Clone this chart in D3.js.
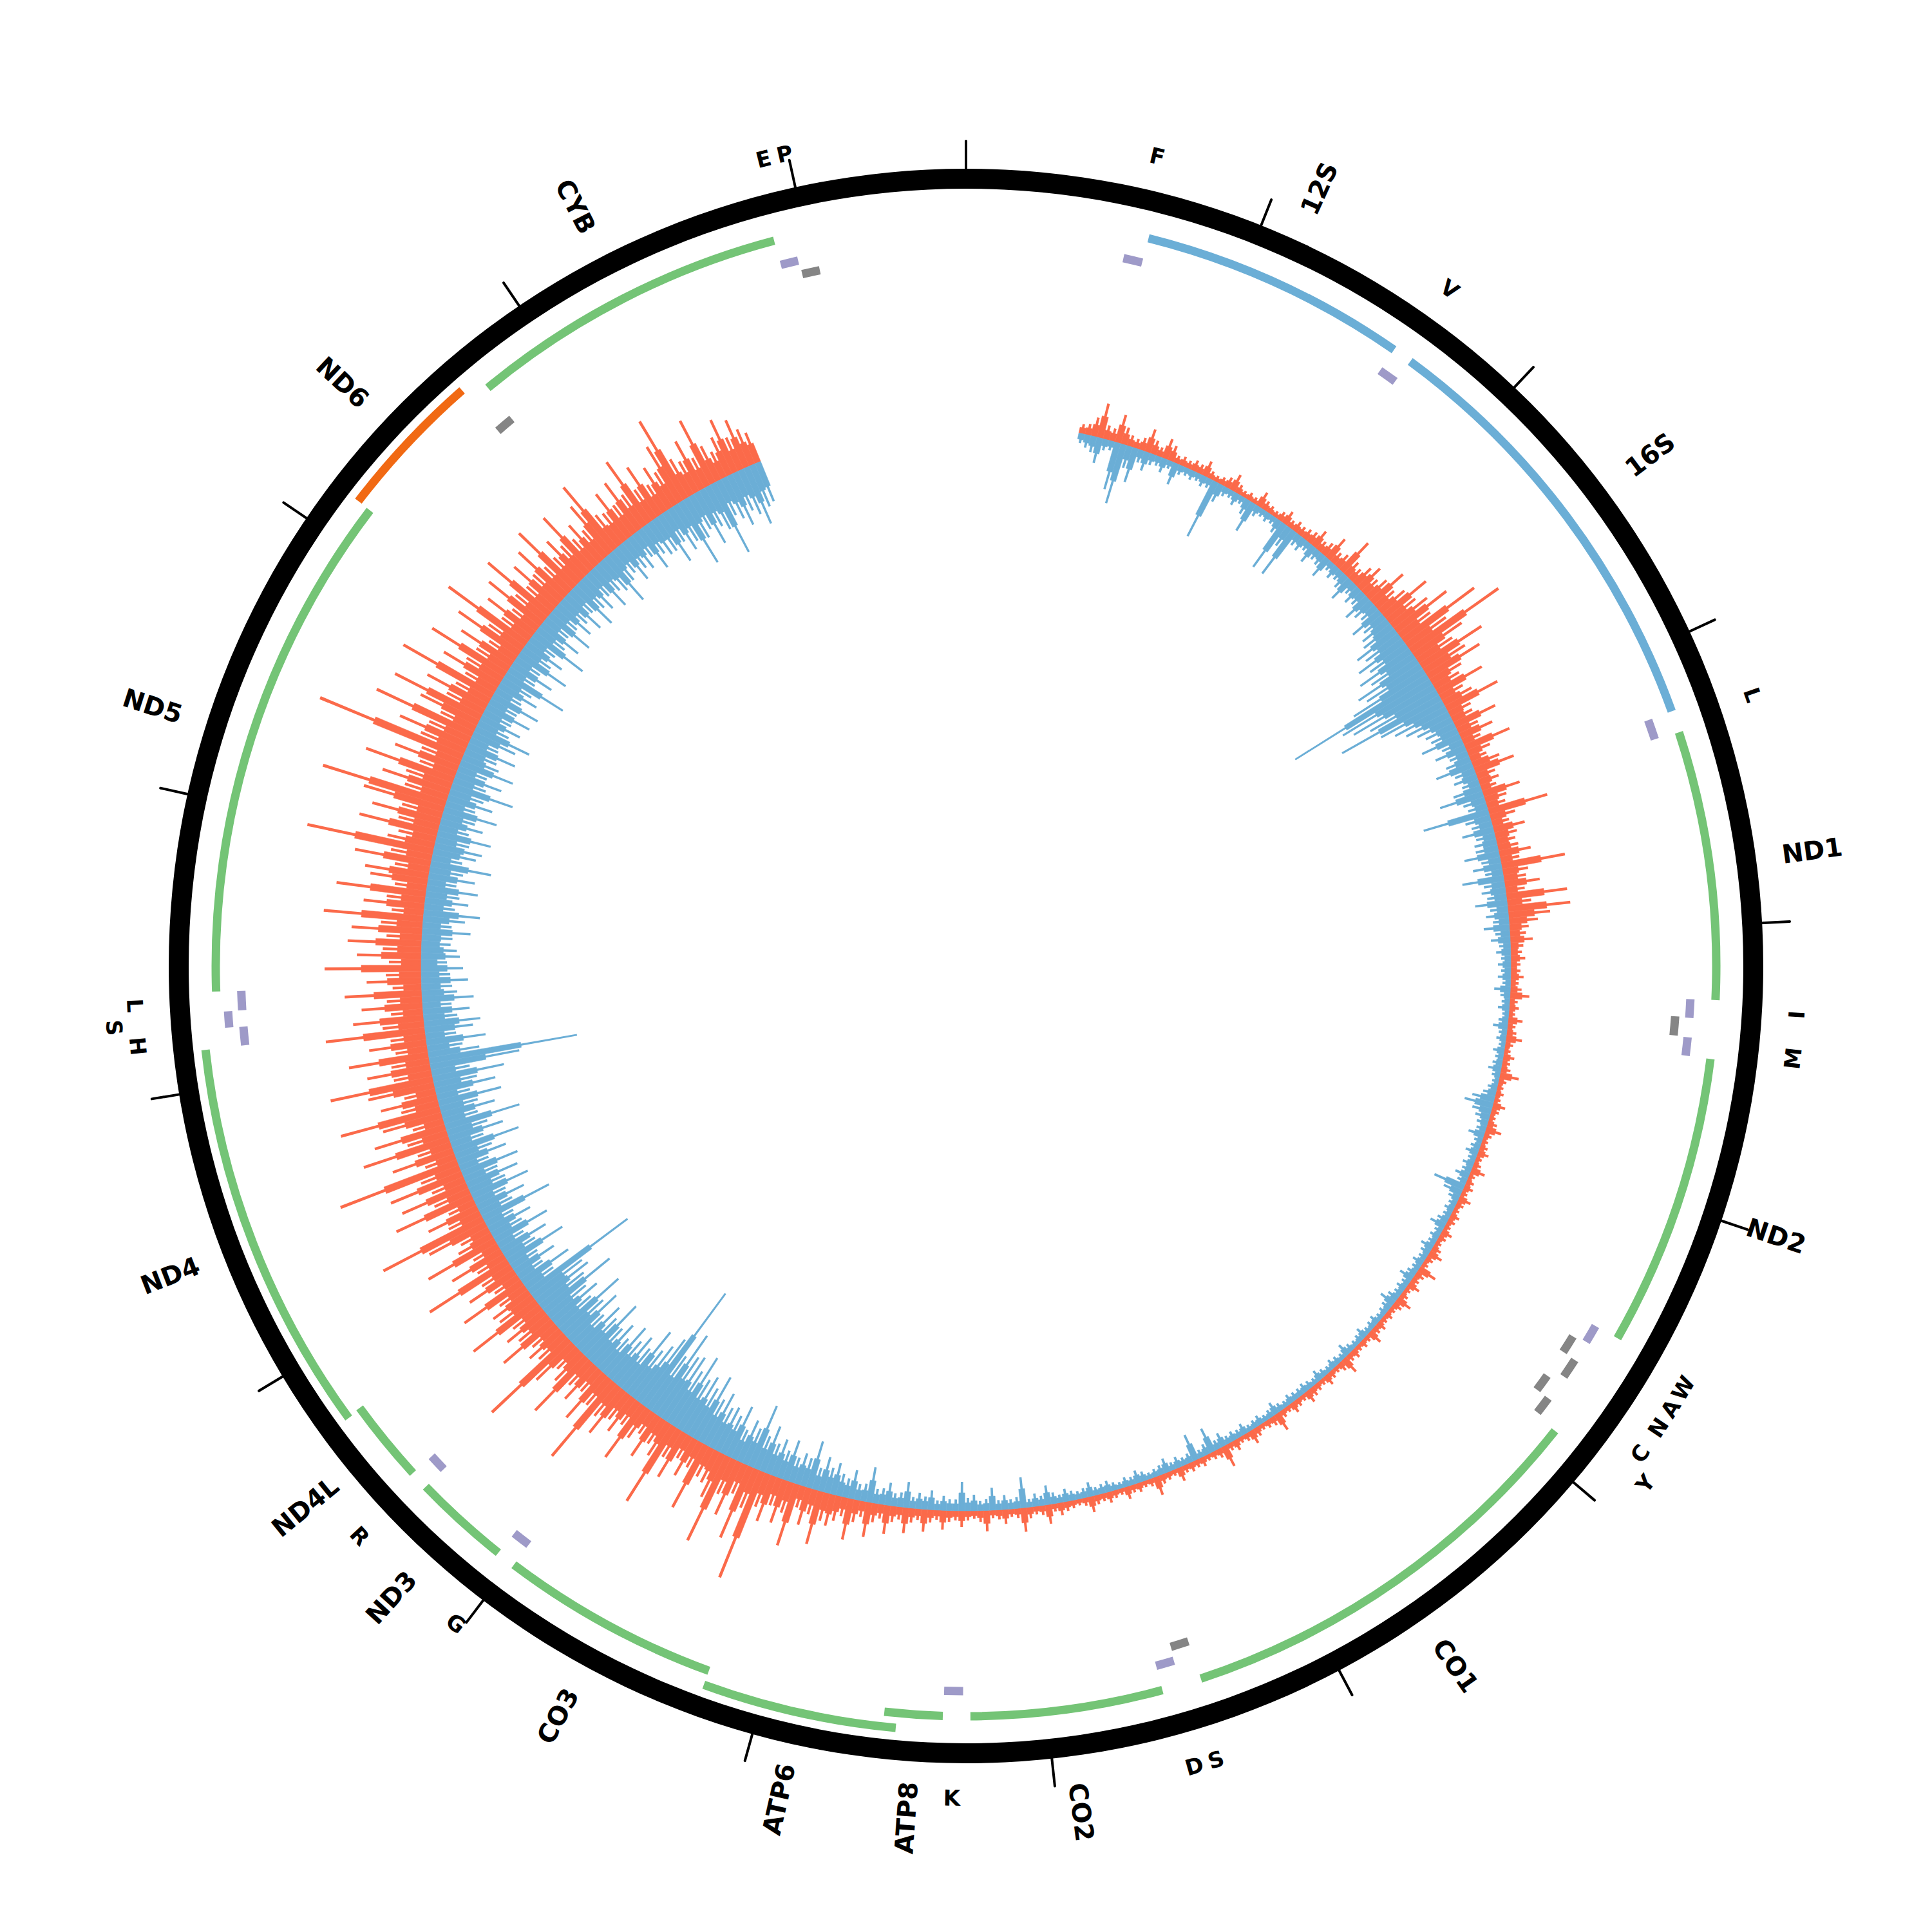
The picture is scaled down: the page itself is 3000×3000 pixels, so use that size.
<!DOCTYPE html>
<html>
<head>
<meta charset="utf-8">
<script src="https://cdn.jsdelivr.net/npm/d3@7"></script>
<style>
  body { margin: 0; background: #fff; }
  svg { display: block; }
</style>
</head>
<body>
<svg id="chart" width="3000" height="3000"></svg>
<script>
// mitochondrial genome, rCRS coordinates
const genomeLength = 16569;
const tickPositions = d3.range(0, 16001, 1000);

const genes = [
    { name: "12S", start: 648, end: 1601, kind: "rRNA" },
    { name: "16S", start: 1671, end: 3229, kind: "rRNA" },
    { name: "ND1", start: 3307, end: 4262, kind: "plus" },
    { name: "ND2", start: 4470, end: 5511, kind: "plus" },
    { name: "CO1", start: 5904, end: 7445, kind: "plus" },
    { name: "CO2", start: 7586, end: 8269, kind: "plus" },
    { name: "ATP8", start: 8366, end: 8572, kind: "plus" },
    { name: "ATP6", start: 8527, end: 9207, kind: "plus" },
    { name: "CO3", start: 9207, end: 9990, kind: "plus" },
    { name: "ND3", start: 10059, end: 10404, kind: "plus" },
    { name: "ND4L", start: 10470, end: 10766, kind: "plus" },
    { name: "ND4", start: 10760, end: 12137, kind: "plus" },
    { name: "ND5", start: 12337, end: 14148, kind: "plus" },
    { name: "ND6", start: 14149, end: 14673, kind: "minus" },
    { name: "CYB", start: 14747, end: 15887, kind: "plus" }
];

const tRNAs = [
    { name: "F", start: 577, end: 647, strand: "+" },
    { name: "V", start: 1602, end: 1670, strand: "+" },
    { name: "L", start: 3230, end: 3304, strand: "+" },
    { name: "I", start: 4263, end: 4331, strand: "+" },
    { name: "Q", start: 4329, end: 4400, strand: "-", label: "" },
    { name: "M", start: 4402, end: 4469, strand: "+" },
    { name: "W", start: 5512, end: 5579, strand: "+" },
    { name: "A", start: 5587, end: 5655, strand: "-" },
    { name: "N", start: 5657, end: 5729, strand: "-" },
    { name: "C", start: 5761, end: 5826, strand: "-" },
    { name: "Y", start: 5826, end: 5891, strand: "-" },
    { name: "S", start: 7446, end: 7514, strand: "-" },
    { name: "D", start: 7518, end: 7585, strand: "+" },
    { name: "K", start: 8295, end: 8364, strand: "+" },
    { name: "G", start: 9991, end: 10058, strand: "+" },
    { name: "R", start: 10405, end: 10469, strand: "+" },
    { name: "H", start: 12138, end: 12206, strand: "+" },
    { name: "S", start: 12207, end: 12265, strand: "+" },
    { name: "L", start: 12266, end: 12336, strand: "+" },
    { name: "E", start: 14674, end: 14742, strand: "-", label: "" },
    { name: "T", start: 15888, end: 15953, strand: "+", label: "E" },
    { name: "P", start: 15956, end: 16023, strand: "-" }
];

// coverage in 30 bp bins from 550 to 15550
const coverageStart = 550;
const binSize = 30;

// heavy strand reads (drawn outward)
const plusCoverage = [
    6,7,12,22,9,8,18,11,7,6,8,15,9,6,13,10,5,6,5,7,
    6,10,5,4,5,7,11,6,4,5,4,10,6,5,4,6,9,5,7,6,
    7,8,12,7,9,16,8,10,24,11,9,14,18,12,16,26,15,20,34,22,
    28,40,24,55,30,67,36,26,45,30,38,22,18,32,16,20,36,15,14,28,
    14,22,12,30,15,11,18,26,12,13,10,24,14,12,38,16,11,20,14,12,
    13,20,12,40,16,14,22,12,38,15,39,26,18,12,10,14,8,7,9,6,
    6,8,5,7,12,5,6,4,9,5,6,10,5,4,7,5,6,12,5,4,
    5,4,8,5,4,6,10,5,4,5,7,4,5,9,4,5,6,4,8,5,
    4,6,5,4,7,5,4,6,9,5,4,12,6,5,8,4,5,10,6,4,
    5,4,6,5,9,4,5,4,6,5,11,6,4,5,7,4,5,6,8,4,
    5,7,4,5,12,6,5,4,6,9,5,4,7,5,14,6,5,4,6,5,
    6,5,9,4,5,6,12,5,4,6,5,8,4,5,7,5,6,10,5,4,
    5,6,8,5,12,6,5,7,15,6,5,9,6,5,13,7,5,6,10,6,
    7,12,6,8,14,7,9,16,8,10,18,9,12,22,10,14,26,12,16,20,
    18,34,16,24,14,40,20,28,18,30,22,71,26,48,20,36,24,58,30,22,
    20,44,18,26,16,32,20,55,24,18,30,16,22,40,18,26,20,34,24,60,
    22,36,18,28,20,46,24,18,32,66,22,26,20,40,24,30,22,50,26,28,
    20,44,18,34,22,58,20,36,18,48,24,20,40,70,22,34,18,52,24,44,
    22,48,26,78,20,40,22,56,26,46,20,38,64,24,36,20,42,65,24,40,
    24,50,20,36,22,62,26,44,20,38,22,48,18,34,22,60,20,40,24,46,
    22,44,26,62,20,38,24,56,20,36,40,22,48,26,80,30,24,50,26,44,
    26,52,80,28,44,30,58,24,42,26,96,30,46,28,66,24,40,60,26,42,
    24,64,22,40,26,54,24,38,20,46,26,60,22,36,20,42,24,50,22,36,
    24,40,22,48,22,32,24,44,22,30,22,38,50,24,22,34,22,36,24,46,
    22,36,20,30,24,40,56,26,22,34,20,44,24,18,26,36,22,32,24,20
];

// light strand reads (drawn inward)
const minusCoverage = [
    6,8,10,16,7,6,30,38,14,22,8,12,7,6,9,5,14,6,5,6,
    5,7,6,38,12,6,5,8,5,10,20,7,5,6,5,9,33,14,33,8,
    9,6,12,7,8,14,6,9,7,10,16,8,12,10,18,14,12,22,16,20,
    22,30,26,34,28,38,32,44,40,52,97,64,58,48,70,44,36,30,24,20,
    18,26,14,20,12,16,24,13,15,11,18,28,14,12,42,16,13,20,12,14,
    14,22,12,18,11,26,13,15,12,20,11,14,10,16,9,12,7,9,6,8,
    6,8,5,10,6,5,7,4,6,9,5,6,4,7,5,6,8,5,4,6,
    8,14,18,12,9,7,6,10,5,6,8,5,7,6,9,6,20,12,7,5,
    6,5,7,10,5,6,5,8,6,5,7,5,6,9,5,6,5,7,10,6,
    5,4,6,5,4,7,5,4,5,8,4,5,6,4,5,7,4,5,6,5,
    5,6,4,5,8,5,4,6,5,4,7,5,6,5,9,6,16,7,5,17,
    6,5,7,5,9,6,5,4,6,8,5,6,4,5,7,6,5,9,6,5,
    6,8,5,7,12,6,8,5,19,7,6,9,6,14,7,6,10,8,18,7,
    7,9,6,12,8,10,7,16,9,8,14,10,9,22,11,10,18,12,14,20,
    16,22,14,30,18,20,16,26,18,24,20,30,22,41,24,28,20,34,26,30,
    28,36,30,44,34,40,36,50,38,46,44,58,40,86,48,40,34,46,30,36,
    30,38,26,34,28,44,30,36,26,40,32,48,28,36,30,52,34,40,38,76,
    21,35,18,29,19,40,22,32,18,37,21,29,19,46,22,32,21,38,24,34,
    22,37,19,32,24,43,21,35,26,48,22,34,24,40,21,38,27,45,24,56,
    93,32,22,37,19,30,35,21,29,18,32,22,19,29,18,26,16,24,22,18,
    19,30,18,26,35,19,27,21,32,18,29,21,38,19,27,30,21,34,19,27,
    21,34,19,29,22,40,21,30,19,35,24,21,32,19,29,37,21,27,19,30,
    19,32,18,27,21,42,19,29,18,35,21,27,19,38,21,29,18,32,19,27,
    21,29,19,32,22,26,19,30,21,24,35,22,19,27,21,24,18,29,21,24,
    24,34,22,30,26,44,28,24,36,26,30,48,24,28,34,26,30,38,28,26
];

const colors = {
    plus: "#74c476",
    rRNA: "#6baed6",
    minus: "#f16913",
    trnaPlus: "#9e9ac8",
    trnaMinus: "#858585",
    covPlus: "#fb6a4a",
    covMinus: "#6baed6"
};

const cx = 1500, cy = 1500;
const ringInner = 1207, ringOuter = 1238;
const geneR = 1165, geneLaneStep = 23, geneWidth = 13;
const trnaR = 1126, trnaLaneStep = 22, trnaWidth = 13;
const baseR = 846;

const svg = d3.select("#chart");
const g = svg.append("g").attr("transform", `translate(${cx},${cy})`);

const angle = d3.scaleLinear().domain([0, genomeLength]).range([0, 2 * Math.PI]);
const barHeight = d3.scaleLinear().domain([0, 100]).range([0, 250]);
const arc = d3.arc();

const toXY = (bp, r) => [r * Math.sin(angle(bp)), -r * Math.cos(angle(bp))];
const toDeg = bp => angle(bp) * 180 / Math.PI;

// greedy lanes so that touching features do not share a lane
function assignLanes(items, baseLane, gap) {
    let lastEnd = {};
    items.slice().sort((a, b) => a.start - b.start).forEach(d => {
        let lane = baseLane(d);
        while (lastEnd[lane] !== undefined && lastEnd[lane] + gap >= d.start) lane++;
        d.lane = lane;
        lastEnd[lane] = d.end;
    });
}
assignLanes(genes, d => 0, 10);
assignLanes(tRNAs, d => d.strand === "+" ? 0 : -1, 10);

// coverage bars: a full-width core plus a thinner tip, so dense bins read as hair
const toBars = values => values.map((v, i) => ({ s: coverageStart + i * binSize, e: coverageStart + (i + 1) * binSize, v }));
const plusBars = toBars(plusCoverage);
const minusBars = toBars(minusCoverage);
const tipShare = 0.4, coreShare = 0.62;

function drawCoverage(bars, color, outward) {
    let layer = g.append("g");
    let radii = (h) => outward ? [baseR, baseR + h] : [baseR - h, baseR];
    layer.selectAll("path.core")
        .data(bars)
        .join("path")
        .attr("class", "core")
        .attr("d", d => {
            let [ri, ro] = radii(barHeight(d.v) * coreShare);
            return arc({ innerRadius: ri, outerRadius: ro, startAngle: angle(d.s), endAngle: angle(d.e) });
        })
        .attr("fill", color)
        .attr("stroke", color)
        .attr("stroke-width", 0.6);
    layer.selectAll("path.tip")
        .data(bars)
        .join("path")
        .attr("class", "tip")
        .attr("d", d => {
            let [ri, ro] = radii(barHeight(d.v));
            let mid = (d.s + d.e) / 2, half = (d.e - d.s) * tipShare / 2;
            return arc({ innerRadius: ri, outerRadius: ro, startAngle: angle(mid - half), endAngle: angle(mid + half) });
        })
        .attr("fill", color);
}
drawCoverage(plusBars, colors.covPlus, true);
drawCoverage(minusBars, colors.covMinus, false);

// outer ring
g.append("path")
    .attr("d", arc({ innerRadius: ringInner, outerRadius: ringOuter, startAngle: 0, endAngle: 2 * Math.PI }))
    .attr("fill", "#000");

// ticks every kb
g.append("g").selectAll("line")
    .data(tickPositions)
    .join("line")
    .attr("x1", d => toXY(d, ringOuter - 2)[0])
    .attr("y1", d => toXY(d, ringOuter - 2)[1])
    .attr("x2", d => toXY(d, 1281)[0])
    .attr("y2", d => toXY(d, 1281)[1])
    .attr("stroke", "#000")
    .attr("stroke-width", 4)
    .attr("stroke-linecap", "round");

// genes
g.append("g").selectAll("path")
    .data(genes)
    .join("path")
    .attr("d", d => {
        let r = geneR + d.lane * geneLaneStep;
        return arc({ innerRadius: r - geneWidth / 2, outerRadius: r + geneWidth / 2, startAngle: angle(d.start), endAngle: angle(d.end) });
    })
    .attr("fill", d => colors[d.kind]);

// tRNAs
g.append("g").selectAll("path")
    .data(tRNAs)
    .join("path")
    .attr("d", d => {
        let r = trnaR + d.lane * trnaLaneStep;
        return arc({ innerRadius: r - trnaWidth / 2, outerRadius: r + trnaWidth / 2, startAngle: angle(d.start), endAngle: angle(d.end) });
    })
    .attr("fill", d => d.strand === "+" ? colors.trnaPlus : colors.trnaMinus);

// gene labels, radial
g.append("g").selectAll("text")
    .data(genes)
    .join("text")
    .attr("transform", d => {
        let mid = (d.start + d.end) / 2;
        let [x, y] = toXY(mid, 1326);
        let deg = toDeg(mid);
        let rot = deg < 180 ? deg - 90 : deg + 90;
        return `translate(${x},${y}) rotate(${rot})`;
    })
    .attr("text-anchor", "middle")
    .attr("dominant-baseline", "central")
    .style("font-family", "DejaVu Sans")
    .style("font-weight", "bold")
    .style("font-size", "40px")
    .text(d => d.name);

// tRNA labels, tangential, pushed out when too close
const trnaLabels = tRNAs
    .map(d => ({ text: d.label !== undefined ? d.label : d.name, mid: (d.start + d.end) / 2 }))
    .filter(d => d.text !== "")
    .sort((a, b) => a.mid - b.mid);
let lastMid = {};
trnaLabels.forEach(d => {
    let lane = 0;
    while (lastMid[lane] !== undefined && d.mid - lastMid[lane] < 68) lane++;
    d.lane = lane;
    lastMid[lane] = d.mid;
});

g.append("g").selectAll("text")
    .data(trnaLabels)
    .join("text")
    .attr("transform", d => {
        let [x, y] = toXY(d.mid, 1292 + d.lane * 34);
        let deg = toDeg(d.mid);
        let rot = (deg >= 90 && deg < 270) ? deg - 180 : deg;
        return `translate(${x},${y}) rotate(${rot})`;
    })
    .attr("text-anchor", "middle")
    .attr("dominant-baseline", "central")
    .style("font-family", "DejaVu Sans")
    .style("font-weight", "bold")
    .style("font-size", "34px")
    .text(d => d.text);
</script>
</body>
</html>
